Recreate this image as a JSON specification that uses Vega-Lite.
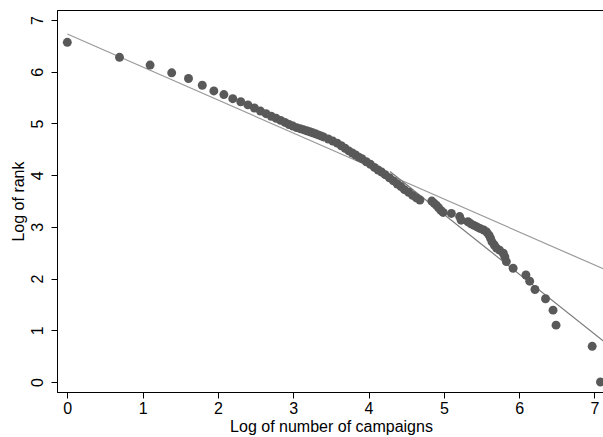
{
  "$schema": "https://vega.github.io/schema/vega-lite/v6.json",
  "autosize": {"type": "none"},
  "padding": {"left": 57, "top": 10, "right": 0, "bottom": 45},
  "width": 548,
  "height": 382,
  "config": {
    "view": {"stroke": "#000000", "strokeWidth": 1},
    "font": "Liberation Sans",
    "axis": {
      "grid": false,
      "domainColor": "#000000",
      "domainWidth": 1,
      "tickColor": "#000000",
      "tickSize": 6,
      "labelColor": "#000000",
      "titleColor": "#000000",
      "labelFont": "Liberation Sans",
      "titleFont": "Liberation Sans",
      "labelFontSize": 16,
      "titleFontSize": 16,
      "titleFontWeight": "normal"
    }
  },
  "datasets": {
    "pts": [
      {"x": 0, "y": 6.57}, {"x": 0.693, "y": 6.28}, {"x": 1.099, "y": 6.13}, {"x": 1.386, "y": 5.98},
      {"x": 1.609, "y": 5.87}, {"x": 1.792, "y": 5.74}, {"x": 1.946, "y": 5.63}, {"x": 2.079, "y": 5.56},
      {"x": 2.197, "y": 5.48}, {"x": 2.303, "y": 5.42}, {"x": 2.398, "y": 5.36}, {"x": 2.485, "y": 5.30},
      {"x": 2.565, "y": 5.24}, {"x": 2.639, "y": 5.19}, {"x": 2.708, "y": 5.14}, {"x": 2.773, "y": 5.10},
      {"x": 2.833, "y": 5.06}, {"x": 2.890, "y": 5.02}, {"x": 2.944, "y": 4.98}, {"x": 2.996, "y": 4.95},
      {"x": 3.045, "y": 4.92}, {"x": 3.091, "y": 4.90}, {"x": 3.135, "y": 4.88}, {"x": 3.178, "y": 4.86},
      {"x": 3.219, "y": 4.84}, {"x": 3.258, "y": 4.82}, {"x": 3.296, "y": 4.80}, {"x": 3.332, "y": 4.78},
      {"x": 3.367, "y": 4.76}, {"x": 3.401, "y": 4.74}, {"x": 3.466, "y": 4.70}, {"x": 3.526, "y": 4.66},
      {"x": 3.584, "y": 4.62}, {"x": 3.638, "y": 4.57}, {"x": 3.689, "y": 4.52}, {"x": 3.738, "y": 4.47},
      {"x": 3.784, "y": 4.43}, {"x": 3.829, "y": 4.39}, {"x": 3.871, "y": 4.35}, {"x": 3.912, "y": 4.32},
      {"x": 3.970, "y": 4.26}, {"x": 4.025, "y": 4.21}, {"x": 4.078, "y": 4.15}, {"x": 4.127, "y": 4.10},
      {"x": 4.174, "y": 4.06}, {"x": 4.220, "y": 4.01}, {"x": 4.277, "y": 3.95}, {"x": 4.331, "y": 3.89},
      {"x": 4.382, "y": 3.83}, {"x": 4.431, "y": 3.78}, {"x": 4.477, "y": 3.72}, {"x": 4.533, "y": 3.67},
      {"x": 4.585, "y": 3.61}, {"x": 4.635, "y": 3.56}, {"x": 4.682, "y": 3.52},
      {"x": 4.84, "y": 3.50}, {"x": 4.87, "y": 3.46}, {"x": 4.90, "y": 3.42}, {"x": 4.93, "y": 3.37},
      {"x": 4.96, "y": 3.32}, {"x": 4.99, "y": 3.28}, {"x": 5.10, "y": 3.26}, {"x": 5.21, "y": 3.20},
      {"x": 5.23, "y": 3.13}, {"x": 5.32, "y": 3.10}, {"x": 5.36, "y": 3.06}, {"x": 5.40, "y": 3.03},
      {"x": 5.44, "y": 3.00}, {"x": 5.48, "y": 2.97}, {"x": 5.53, "y": 2.94}, {"x": 5.57, "y": 2.90},
      {"x": 5.60, "y": 2.84}, {"x": 5.62, "y": 2.78}, {"x": 5.64, "y": 2.71}, {"x": 5.67, "y": 2.65},
      {"x": 5.70, "y": 2.59}, {"x": 5.74, "y": 2.55}, {"x": 5.79, "y": 2.49}, {"x": 5.81, "y": 2.42},
      {"x": 5.83, "y": 2.33}, {"x": 5.92, "y": 2.20}, {"x": 6.09, "y": 2.07}, {"x": 6.14, "y": 1.95},
      {"x": 6.21, "y": 1.79}, {"x": 6.35, "y": 1.61}, {"x": 6.45, "y": 1.39}, {"x": 6.49, "y": 1.10},
      {"x": 6.97, "y": 0.69}, {"x": 7.08, "y": 0.0}
    ],
    "fits": [
      {"fit": "all", "x": 0, "y": 6.73},
      {"fit": "all", "x": 7.14, "y": 2.175},
      {"fit": "tail", "x": 4.285, "y": 4.07},
      {"fit": "tail", "x": 7.14, "y": 0.767}
    ]
  },
  "encoding": {
    "x": {"field": "x", "type": "quantitative", "scale": {"domain": [-0.137, 7.14], "nice": false, "zero": false},
          "axis": {"values": [0, 1, 2, 3, 4, 5, 6, 7], "format": "d", "title": "Log of number of campaigns", "labelPadding": 2, "titlePadding": 2, "labelFlush": false}},
    "y": {"field": "y", "type": "quantitative", "scale": {"domain": [-0.193, 7.195], "nice": false, "zero": false},
          "axis": {"values": [0, 1, 2, 3, 4, 5, 6, 7], "format": "d", "title": "Log of rank", "labelAngle": -90, "labelPadding": 6, "titlePadding": 3, "labelFlush": false}}
  },
  "layer": [
    {
      "data": {"name": "fits"},
      "mark": {"type": "line", "strokeWidth": 1.2, "clip": true},
      "encoding": {
        "detail": {"field": "fit"},
        "color": {"field": "fit", "type": "nominal", "scale": {"domain": ["all", "tail"], "range": ["#9a9a9a", "#7a7a7a"]}, "legend": null}
      }
    },
    {
      "data": {"name": "pts"},
      "mark": {"type": "circle", "size": 80, "opacity": 1, "color": "#595959"},
      "encoding": {}
    }
  ]
}
